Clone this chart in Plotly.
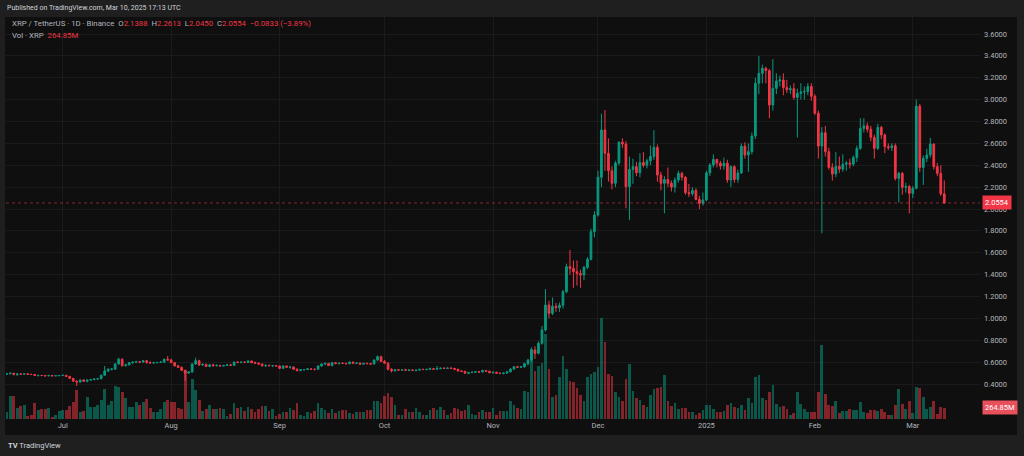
import pandas as pd
import plotly.graph_objects as go

# ---------------- data (XRP / TetherUS, 1D, Binance) ----------------
START_DATE = "2024-06-15"

OPEN = [
    .490, .493, .499, .488, .492, .490, .493, .488, .487, .478,
    .479, .477, .474, .478, .474, .476, .478, .480, .470, .452,
    .426, .418, .437, .425, .436, .440, .446, .448, .480, .519,
    .534, .536, .583, .626, .567, .575, .595, .600, .604, .600,
    .613, .598, .592, .595, .597, .599, .626, .620, .595, .566,
    .552, .525, .500, .510, .583, .613, .574, .580, .560, .575,
    .567, .570, .565, .570, .575, .570, .600, .597, .600, .597,
    .610, .595, .590, .582, .566, .570, .567, .568, .565, .543,
    .565, .553, .555, .534, .522, .530, .532, .538, .535, .534,
    .565, .583, .589, .568, .595, .587, .590, .588, .585, .601,
    .589, .592, .581, .589, .586, .582, .619, .650, .606, .590,
    .534, .520, .530, .527, .530, .525, .528, .524, .527, .534,
    .532, .534, .540, .535, .540, .545, .542, .546, .543, .534,
    .519, .515, .498, .505, .508, .512, .510, .524, .517, .503,
    .508, .499, .497, .500, .512, .536, .558, .553, .557, .586,
    .619, .711, .680, .772, .894, 1.122, 1.046, 1.110, 1.098, 1.120,
    1.244, 1.473, 1.457, 1.427, 1.410, 1.396, 1.466, 1.540, 1.793, 1.945,
    2.290, 2.722, 2.509, 2.350, 2.235, 2.420, 2.610, 2.594, 2.204, 2.362,
    2.387, 2.332, 2.424, 2.400, 2.440, 2.480, 2.563, 2.310, 2.235, 2.270,
    2.235, 2.200, 2.265, 2.326, 2.290, 2.150, 2.140, 2.170, 2.088, 2.052,
    2.082, 2.330, 2.402, 2.453, 2.418, 2.393, 2.418, 2.265, 2.387, 2.270,
    2.330, 2.575, 2.494, 2.524, 2.667, 3.149, 3.240, 3.286, 3.265, 2.951,
    3.103, 3.170, 3.180, 3.110, 3.090, 3.100, 3.020, 3.057, 3.070, 3.075,
    3.120, 3.030, 2.875, 2.575, 2.697, 2.524, 2.380, 2.320, 2.390, 2.365,
    2.410, 2.420, 2.410, 2.470, 2.554, 2.737, 2.760, 2.729, 2.655, 2.554,
    2.746, 2.677, 2.570, 2.560, 2.578, 2.280, 2.326, 2.198, 2.205, 2.143,
    2.189, 2.941, 2.380, 2.463, 2.494, 2.594, 2.387, 2.326, 2.1388,
]
HIGH = [
    .498, .502, .501, .495, .498, .496, .495, .492, .490, .483,
    .482, .480, .484, .482, .479, .481, .484, .482, .472, .455,
    .434, .440, .442, .440, .445, .450, .455, .485, .565, .545,
    .545, .590, .640, .635, .585, .600, .605, .612, .610, .618,
    .620, .606, .603, .600, .610, .632, .656, .630, .600, .575,
    .560, .530, .518, .590, .640, .622, .588, .585, .583, .585,
    .580, .575, .575, .580, .585, .605, .610, .606, .606, .615,
    .615, .605, .598, .588, .580, .578, .575, .572, .568, .570,
    .570, .565, .560, .545, .535, .537, .545, .542, .540, .570,
    .590, .595, .592, .600, .600, .595, .598, .595, .605, .604,
    .598, .596, .592, .595, .592, .625, .662, .658, .620, .600,
    .545, .535, .534, .535, .540, .532, .535, .530, .537, .540,
    .538, .550, .545, .565, .548, .552, .550, .552, .546, .540,
    .526, .522, .510, .512, .515, .518, .530, .528, .520, .512,
    .512, .503, .505, .520, .545, .565, .566, .565, .595, .630,
    .735, .745, .790, .930, 1.268, 1.160, 1.190, 1.140, 1.145, 1.260,
    1.500, 1.625, 1.530, 1.530, 1.445, 1.480, 1.560, 1.820, 1.980, 2.350,
    2.870, 2.905, 2.646, 2.390, 2.440, 2.620, 2.646, 2.620, 2.480, 2.460,
    2.430, 2.510, 2.520, 2.460, 2.580, 2.720, 2.590, 2.340, 2.300, 2.380,
    2.260, 2.290, 2.350, 2.340, 2.300, 2.230, 2.200, 2.190, 2.120, 2.150,
    2.350, 2.420, 2.500, 2.460, 2.440, 2.470, 2.450, 2.400, 2.400, 2.360,
    2.600, 2.610, 2.600, 2.700, 3.200, 3.400, 3.320, 3.300, 3.280, 3.370,
    3.240, 3.220, 3.240, 3.180, 3.130, 3.150, 3.100, 3.150, 3.120, 3.150,
    3.150, 3.050, 2.900, 2.750, 2.760, 2.560, 2.420, 2.520, 2.480, 2.500,
    2.440, 2.460, 2.490, 2.580, 2.830, 2.830, 2.790, 2.760, 2.680, 2.780,
    2.760, 2.690, 2.600, 2.600, 2.600, 2.340, 2.340, 2.240, 2.220, 2.210,
    3.000, 2.960, 2.490, 2.550, 2.650, 2.600, 2.420, 2.400, 2.2613,
]
LOW = [
    .487, .490, .478, .472, .487, .484, .485, .484, .476, .468,
    .473, .470, .472, .471, .472, .470, .473, .468, .445, .420,
    .382, .412, .420, .415, .430, .435, .440, .445, .478, .510,
    .525, .530, .575, .560, .560, .570, .585, .592, .590, .595,
    .585, .588, .585, .588, .592, .596, .612, .590, .560, .548,
    .520, .430, .492, .505, .575, .565, .565, .555, .553, .560,
    .560, .560, .558, .565, .565, .565, .590, .590, .592, .595,
    .590, .585, .578, .560, .555, .562, .555, .560, .535, .540,
    .550, .540, .530, .515, .520, .524, .528, .530, .525, .532,
    .560, .572, .565, .562, .580, .578, .583, .580, .582, .585,
    .583, .578, .578, .580, .578, .580, .612, .600, .585, .525,
    .505, .515, .522, .522, .522, .518, .520, .515, .522, .528,
    .525, .530, .528, .530, .535, .538, .538, .540, .530, .515,
    .510, .495, .490, .500, .502, .500, .505, .512, .498, .495,
    .495, .490, .488, .495, .505, .530, .548, .548, .550, .570,
    .600, .630, .670, .760, .880, 1.000, 1.030, 1.060, 1.060, 1.090,
    1.230, 1.400, 1.280, 1.300, 1.280, 1.350, 1.450, 1.530, 1.740, 1.930,
    2.200, 2.350, 2.250, 2.180, 2.200, 2.400, 2.560, 2.006, 1.899, 2.230,
    2.300, 2.290, 2.380, 2.370, 2.400, 2.450, 2.250, 2.170, 1.960, 2.200,
    2.160, 2.150, 2.240, 2.260, 2.130, 2.110, 2.120, 2.080, 2.000, 2.030,
    2.070, 2.300, 2.380, 2.380, 2.360, 2.360, 2.240, 2.200, 2.240, 2.240,
    2.320, 2.460, 2.340, 2.500, 2.640, 3.050, 3.150, 3.149, 2.830, 2.900,
    3.050, 3.120, 3.040, 3.060, 3.050, 3.000, 2.655, 3.000, 3.000, 3.040,
    2.990, 2.860, 2.460, 1.777, 2.480, 2.360, 2.260, 2.290, 2.330, 2.340,
    2.350, 2.370, 2.390, 2.430, 2.540, 2.700, 2.700, 2.620, 2.460, 2.540,
    2.640, 2.510, 2.540, 2.530, 2.260, 2.060, 2.130, 2.150, 1.960, 2.100,
    2.180, 2.340, 2.220, 2.430, 2.470, 2.360, 2.300, 2.120, 2.0450,
]
CLOSE = [
    .493, .499, .488, .492, .490, .493, .488, .487, .478, .479,
    .477, .474, .478, .474, .476, .478, .480, .470, .452, .426,
    .418, .437, .425, .436, .440, .446, .448, .480, .519, .534,
    .536, .583, .626, .567, .575, .595, .600, .604, .600, .613,
    .598, .592, .595, .597, .599, .626, .620, .595, .566, .552,
    .525, .500, .510, .583, .613, .574, .580, .560, .575, .567,
    .570, .565, .570, .575, .570, .600, .597, .600, .597, .610,
    .595, .590, .582, .566, .570, .567, .568, .565, .543, .565,
    .553, .555, .534, .522, .530, .532, .538, .535, .534, .565,
    .583, .589, .568, .595, .587, .590, .588, .585, .601, .589,
    .592, .581, .589, .586, .582, .619, .650, .606, .590, .534,
    .520, .530, .527, .530, .525, .528, .524, .527, .534, .532,
    .534, .540, .535, .540, .545, .542, .546, .543, .534, .519,
    .515, .498, .505, .508, .512, .510, .524, .517, .503, .508,
    .499, .497, .500, .512, .536, .558, .553, .557, .586, .619,
    .711, .680, .772, .894, 1.122, 1.046, 1.110, 1.098, 1.120, 1.244,
    1.473, 1.457, 1.427, 1.410, 1.396, 1.466, 1.540, 1.793, 1.945, 2.290,
    2.722, 2.509, 2.350, 2.235, 2.420, 2.610, 2.594, 2.204, 2.362, 2.387,
    2.332, 2.424, 2.400, 2.440, 2.480, 2.563, 2.310, 2.235, 2.270, 2.235,
    2.200, 2.265, 2.326, 2.290, 2.150, 2.140, 2.170, 2.088, 2.052, 2.082,
    2.330, 2.402, 2.453, 2.418, 2.393, 2.418, 2.265, 2.387, 2.270, 2.330,
    2.575, 2.494, 2.524, 2.667, 3.149, 3.240, 3.286, 3.265, 2.951, 3.103,
    3.170, 3.180, 3.110, 3.090, 3.100, 3.020, 3.057, 3.070, 3.075, 3.120,
    3.030, 2.875, 2.575, 2.697, 2.524, 2.380, 2.320, 2.390, 2.365, 2.410,
    2.420, 2.410, 2.470, 2.554, 2.737, 2.760, 2.729, 2.655, 2.554, 2.746,
    2.677, 2.570, 2.560, 2.578, 2.280, 2.326, 2.198, 2.205, 2.143, 2.189,
    2.941, 2.380, 2.463, 2.494, 2.594, 2.387, 2.326, 2.1388, 2.0554,
]
# volume in millions of XRP
VOLUME_M = [
    171, 538, 538, 250, 304, 321, 70, 87, 367, 211,
    227, 227, 250, 54, 94, 194, 211, 211, 304, 398,
    679, 164, 180, 508, 288, 288, 321, 445, 695, 335,
    421, 772, 749, 632, 498, 288, 288, 391, 335, 391,
    461, 250, 171, 171, 234, 398, 445, 398, 398, 250,
    234, 1147, 398, 929, 679, 438, 194, 241, 328, 241,
    241, 257, 234, 70, 117, 367, 264, 274, 194, 288,
    234, 171, 234, 311, 304, 194, 234, 70, 117, 171,
    171, 250, 211, 367, 94, 70, 157, 133, 187, 367,
    250, 211, 133, 234, 133, 194, 211, 211, 133, 117,
    157, 157, 171, 211, 211, 421, 421, 381, 538, 601,
    522, 328, 94, 94, 234, 157, 157, 250, 171, 94,
    94, 211, 264, 211, 288, 211, 94, 133, 264, 234,
    194, 211, 328, 117, 94, 157, 211, 171, 171, 264,
    94, 194, 194, 180, 428, 328, 250, 227, 662, 625,
    1638, 1130, 1247, 1303, 1989, 1163, 522, 562, 976, 1481,
    1163, 896, 859, 718, 562, 428, 976, 1053, 1093, 1217,
    2356, 1809, 1053, 1013, 625, 508, 428, 929, 1280, 655,
    498, 445, 321, 274, 562, 695, 718, 756, 1030, 421,
    304, 367, 234, 250, 250, 157, 157, 94, 133, 211,
    328, 328, 227, 171, 157, 187, 321, 367, 288, 250,
    328, 211, 484, 381, 990, 1030, 498, 445, 625, 789,
    351, 288, 304, 234, 94, 133, 625, 351, 234, 171,
    157, 171, 632, 1732, 578, 321, 304, 421, 147, 187,
    187, 234, 211, 211, 391, 171, 133, 211, 211, 194,
    234, 157, 94, 94, 328, 702, 351, 227, 428, 133,
    742, 718, 522, 234, 274, 428, 117, 274, 264.85,
]

MONTH_TICKS = ["2024-07-01", "2024-08-01", "2024-09-01", "2024-10-01", "2024-11-01",
               "2024-12-01", "2025-01-01", "2025-02-01", "2025-03-01"]
MONTH_LABELS = ["Jul", "Aug", "Sep", "Oct", "Nov", "Dec", "2025", "Feb", "Mar"]
PRICE_TICKS = [0.4, 0.6, 0.8, 1.0, 1.2, 1.4, 1.6, 1.8, 2.0, 2.2, 2.4, 2.6, 2.8, 3.0, 3.2, 3.4, 3.6]

LAST_PRICE = CLOSE[-1]
LAST_VOL = VOLUME_M[-1]
CHANGE_TEXT = "−0.0833 (−3.89%)"

# ---------------- style ----------------
UP = "#089981"
DOWN = "#f23645"
UP_VOL = "rgba(8,153,129,0.52)"
DOWN_VOL = "rgba(242,54,69,0.52)"
OUTER_BG = "#1f1f1f"
CHART_BG = "#0f0f0f"
GRID = "#1b1b1b"
TEXT = "#b2b5be"
FONT = "Roboto"

dates = pd.date_range(START_DATE, periods=len(CLOSE), freq="D")
vol_colors = [UP_VOL if c >= o else DOWN_VOL for o, c in zip(OPEN, CLOSE)]

fig = go.Figure()

# volume on the base (hidden) axis so candles are drawn above it
fig.add_trace(go.Bar(
    x=dates, y=VOLUME_M, marker=dict(color=vol_colors, line=dict(width=0)),
    width=0.78 * 86400000, yaxis="y", hoverinfo="skip", showlegend=False,
))

fig.add_trace(go.Candlestick(
    x=dates, open=OPEN, high=HIGH, low=LOW, close=CLOSE, yaxis="y2",
    increasing=dict(line=dict(color=UP, width=1), fillcolor=UP),
    decreasing=dict(line=dict(color=DOWN, width=1), fillcolor=DOWN),
    whiskerwidth=0, showlegend=False,
))

W, H = 1024, 456
ML, MR, MT, MB = 6, 44, 17, 37
PW = W - ML - MR
PH = H - MT - MB

def px_x(X):
    return (X - ML) / PW

def px_y(Y):
    return (H - MB - Y) / PH

x_start = dates[0] - pd.Timedelta(hours=5)
x_end = dates[-1] + pd.Timedelta(hours=245)

fig.update_layout(
    width=W, height=H,
    margin=dict(l=ML, r=MR, t=MT, b=MB),
    paper_bgcolor=OUTER_BG, plot_bgcolor=CHART_BG,
    font=dict(family=FONT, color=TEXT, size=7.5),
    showlegend=False,
    bargap=0,
    xaxis=dict(
        type="date", range=[x_start, x_end], rangeslider=dict(visible=False),
        tickvals=MONTH_TICKS, ticktext=MONTH_LABELS,
        showgrid=True, gridcolor=GRID, gridwidth=1, zeroline=False,
        showline=False, ticks="", tickfont=dict(size=7.5, color=TEXT),
    ),
    yaxis=dict(
        range=[0, PH * 23.4], visible=False, showgrid=False, fixedrange=True,
    ),
    yaxis2=dict(
        overlaying="y", side="right", range=[0.08, 3.7554],
        tickvals=PRICE_TICKS, tickformat=".4f",
        showgrid=True, gridcolor=GRID, gridwidth=1, zeroline=False,
        showline=False, ticks="", ticklabelstandoff=3,
        tickfont=dict(size=7.5, color=TEXT),
    ),
)

# chart panel (dark) over the outer frame
fig.add_shape(type="rect", xref="paper", yref="paper", layer="below",
              x0=px_x(5), x1=px_x(1017), y0=px_y(435), y1=px_y(17),
              fillcolor=CHART_BG, line=dict(width=0))

# last price line
fig.add_shape(type="line", xref="paper", yref="y2", x0=0, x1=1,
              y0=LAST_PRICE, y1=LAST_PRICE,
              line=dict(color="rgba(242,54,69,0.55)", width=1, dash="dot"))

# price labels on the scale
fig.add_annotation(xref="paper", yref="y2", x=px_x(982), y=LAST_PRICE,
                   xanchor="left", yanchor="middle", showarrow=False,
                   text=f"{LAST_PRICE:.4f}", bgcolor=DOWN, borderpad=2,
                   font=dict(size=7.5, color="#ffffff", family=FONT))
fig.add_annotation(xref="paper", yref="y", x=px_x(982), y=LAST_VOL,
                   xanchor="left", yanchor="middle", showarrow=False,
                   text=f"{LAST_VOL:.2f}M", bgcolor="#e8505b", borderpad=2,
                   font=dict(size=7.5, color="#ffffff", family=FONT))

# header texts
fig.add_annotation(xref="paper", yref="paper", x=px_x(5), y=px_y(8),
                   xanchor="left", yanchor="middle", showarrow=False,
                   text="Published on TradingView.com, Mar 10, 2025 17:13 UTC",
                   font=dict(size=7, color="#d1d4dc", family=FONT))

R = DOWN
legend1 = (f"XRP / TetherUS · 1D · Binance  O<span style='color:{R}'>{OPEN[-1]:.4f}</span>"
           f"  H<span style='color:{R}'>{HIGH[-1]:.4f}</span>"
           f"  L<span style='color:{R}'>{LOW[-1]:.4f}</span>"
           f"  C<span style='color:{R}'>{CLOSE[-1]:.4f}</span>"
           f"  <span style='color:{R}'>{CHANGE_TEXT}</span>")
fig.add_annotation(xref="paper", yref="paper", x=px_x(10), y=px_y(24),
                   xanchor="left", yanchor="middle", showarrow=False,
                   text=legend1, font=dict(size=7.8, color=TEXT, family=FONT))
fig.add_annotation(xref="paper", yref="paper", x=px_x(10), y=px_y(35),
                   xanchor="left", yanchor="middle", showarrow=False,
                   text=f"Vol · XRP  <span style='color:{R}'>{LAST_VOL:.2f}M</span>",
                   font=dict(size=7.8, color=TEXT, family=FONT))

# footer logo
fig.add_annotation(xref="paper", yref="paper", x=px_x(6), y=px_y(445),
                   xanchor="left", yanchor="middle", showarrow=False,
                   text="<b>TV</b> TradingView",
                   font=dict(size=7.5, color="#d1d4dc", family=FONT))

fig.write_html(
    "out.html",
    config={"displayModeBar": False},
    post_script="document.body.style.margin='0';document.body.style.background='#1f1f1f';",
)
